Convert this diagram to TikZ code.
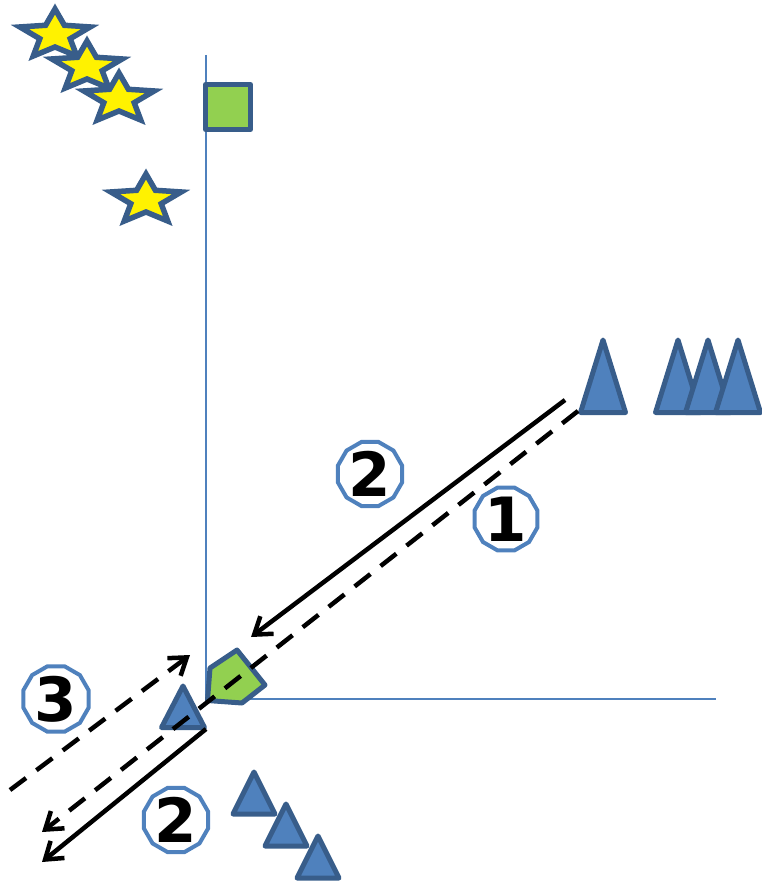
\documentclass[tikz,border=0pt]{standalone}
\usepackage{fontspec}
\setmainfont{DejaVu Sans}
\usepackage{tikz}
\usetikzlibrary{arrows.meta,shapes.geometric}

\definecolor{axisblue}{HTML}{4F81BD}
\definecolor{edgeblue}{HTML}{385D8A}
\definecolor{leafgreen}{HTML}{92D050}

\tikzset{
  axisline/.style={draw=axisblue,line width=2pt},
  starshape/.style={draw=edgeblue,fill=yellow,line width=5.5pt,line join=miter},
  tri/.style={draw=edgeblue,fill=axisblue,line width=5pt,line join=round},
  greenbox/.style={draw=edgeblue,fill=leafgreen,line width=5pt,line join=round},
  solidarrow/.style={line width=4.5pt,-{Straight Barb[length=16pt,width=22pt]}},
  dasharrow/.style={solidarrow,dash pattern=on 20pt off 13pt},
  stepno/.style={regular polygon,regular polygon sides=12,minimum size=64pt,
    draw=axisblue,line width=4pt,inner sep=0pt,font=\fontsize{61}{61}\selectfont\bfseries}
}

\newcommand{\starat}[2]{%
  \draw[starshape] (#1,#2) +(-90:37 and 26)
    \foreach \a in {0,...,4} {-- +(-54+72*\a:16 and 12) -- +(-18+72*\a:37 and 26)} -- cycle;}

\begin{document}
\begin{tikzpicture}[x=1pt,y=-1pt]
\useasboundingbox (0,0) rectangle (761,885);

%Drawing axes
\coordinate (origin) at (205.5,699);
\coordinate (ytop) at (205.5,55);
\coordinate (xend) at (716,699);
\draw[axisline] (ytop)--(origin)--(xend);

%Drawing stars
\starat{55}{35}
\starat{87}{67}
\starat{119}{99}
\starat{146}{200}

%green square on the axis
\draw[greenbox] (205.5,84.5) rectangle (250.5,129.5);

%tall triangles
\draw[tri] (603,340)--(625.5,412.5)--(580.5,412.5)--cycle;
\draw[tri] (678,340)--(700.5,412.5)--(655.5,412.5)--cycle;
\draw[tri] (708,340)--(730.5,412.5)--(685.5,412.5)--cycle;
\draw[tri] (738,340)--(760.5,412.5)--(715.5,412.5)--cycle;

%small triangles
\draw[tri] (183,686)--(204.5,727.5)--(161.5,727.5)--cycle;
\draw[tri] (254,772)--(275,814)--(233,814)--cycle;
\draw[tri] (286,804)--(307,846)--(265,846)--cycle;
\draw[tri] (318,836)--(339,878)--(297,878)--cycle;

%green pentagon at the origin
\draw[greenbox] (237,650)--(265,685)--(242,703)--(207.5,700.5)--(210,668)--cycle;

%connecting them
\coordinate (tallA) at (565,400);
\coordinate (pentIn) at (251,637);
\coordinate (tallB) at (578,411);
\coordinate (dashEnd) at (42,832);
\coordinate (triBase) at (206,729);
\coordinate (solidEnd) at (42,862);
\coordinate (backStart) at (10,790);
\coordinate (backEnd) at (190,655);
\draw[solidarrow] (tallA)--(pentIn);
\draw[dasharrow] (tallB)--(dashEnd);
\draw[solidarrow] (triBase)--(solidEnd);
\draw[dasharrow] (backStart)--(backEnd);

%step numbers
\node[stepno] (stepTwoA) at (370,474) {2};
\node[stepno] (stepOne) at (506,519) {1};
\node[stepno] (stepThree) at (56,699) {3};
\node[stepno] (stepTwoB) at (176,820) {2};

\end{tikzpicture}
\end{document}
